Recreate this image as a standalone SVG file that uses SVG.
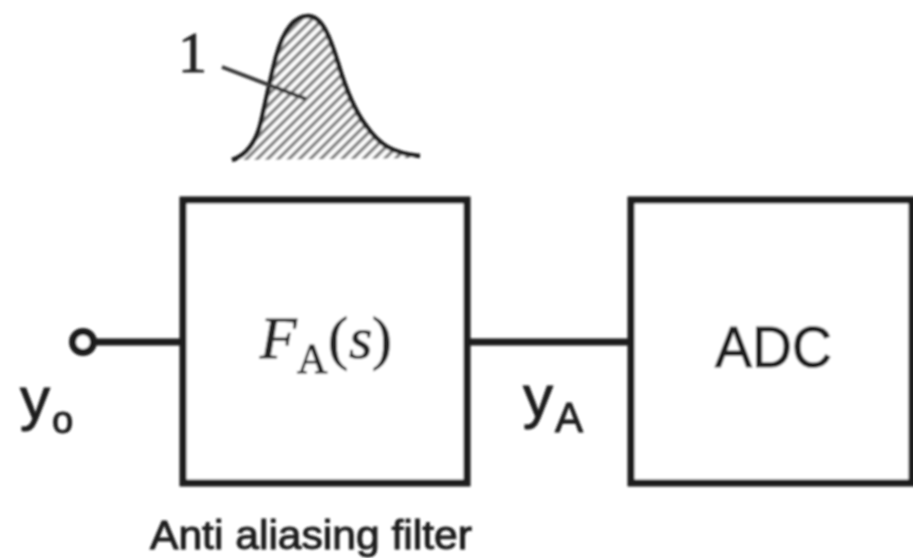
<svg xmlns="http://www.w3.org/2000/svg" width="913" height="558" viewBox="0 0 913 558">
<style>
.box{fill:#fff;stroke:#1c1c1c;stroke-width:7}
.wire{fill:none;stroke:#1c1c1c;stroke-width:7}
.s{font-family:"Liberation Sans",Arial,sans-serif;fill:#1c1c1c;stroke:#1c1c1c;stroke-width:1}
.r{font-family:"Liberation Serif","Times New Roman",serif;fill:#222;stroke:#222;stroke-width:.9}
</style>
<defs>
<pattern id="hatch" width="7.5" height="7.5" patternUnits="userSpaceOnUse" patternTransform="rotate(-45)">
<rect width="7.5" height="7.5" fill="#fff"/>
<rect width="7.5" height="3.4" fill="#808080"/>
</pattern>
<filter id="soft" x="-5%" y="-5%" width="110%" height="110%"><feGaussianBlur stdDeviation="0.9"/></filter>
</defs>
<rect width="913" height="558" fill="#fff"/>
<g filter="url(#soft)">
<g id="distribution">
<path d="M232 160C247 155 256 143 261 122C266 100 270 80 276 57C283 32 293 16 308 16C322 16 330 37 338 63C346 90 355 112 367 127C380 145 392 153 420 156L420 158L232 160Z" fill="url(#hatch)" stroke="none"/>
<path d="M232 160C247 155 256 143 261 122C266 100 270 80 276 57C283 32 293 16 308 16C322 16 330 37 338 63C346 90 355 112 367 127C380 145 392 153 420 156" fill="none" stroke="#1c1c1c" stroke-width="4.5"/>
<path d="M222 67L306 99" fill="none" stroke="#3a3a3a" stroke-width="4"/>
<text class="r" x="178" y="72" font-size="58">1</text>
</g>
<g id="connectors">
<path class="wire" d="M94 342H183"/>
<path class="wire" d="M467 342H631"/>
</g>
<g id="terminal">
<circle cx="83" cy="342" r="10.5" fill="#fff" stroke="#1c1c1c" stroke-width="7"/>
<text class="s" x="20" y="419" font-size="60">y<tspan x="52" y="433" font-size="38">o</tspan></text>
</g>
<g id="filter">
<rect class="box" x="183" y="200" width="284" height="283"/>
<text class="r" font-size="60"><tspan x="260" y="358" font-style="italic">F</tspan><tspan x="297" y="373" font-size="42">A</tspan><tspan x="328" y="358">(</tspan><tspan x="349" y="358" font-style="italic">s</tspan><tspan x="372" y="358">)</tspan></text>
<text class="s" x="150" y="549" font-size="40" textLength="322" lengthAdjust="spacingAndGlyphs">Anti aliasing filter</text>
</g>
<g id="signal">
<text class="s" x="523" y="417" font-size="60">y<tspan x="555" y="432" font-size="42">A</tspan></text>
</g>
<g id="adc">
<rect class="box" x="631" y="200" width="281" height="283"/>
<text class="s" x="715" y="367" font-size="58" textLength="117" lengthAdjust="spacingAndGlyphs">ADC</text>
</g>
</g>
</svg>
